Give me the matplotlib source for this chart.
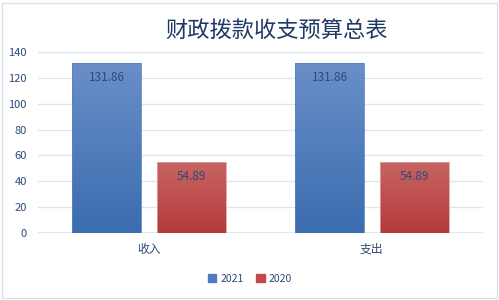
import numpy as np
import matplotlib.pyplot as plt
from matplotlib.patches import Rectangle

plt.rcParams['font.family'] = ['Noto Sans CJK SC', 'DejaVu Sans']

# data
categories = ['收入', '支出']
series_names = ['2021', '2020']
values_2021 = [131.86, 131.86]
values_2020 = [54.89, 54.89]
y_ticks = [0, 20, 40, 60, 80, 100, 120, 140]

text_color = '#2E4A7A'
grid_color = '#DCE6F2'

fig = plt.figure(figsize=(4.99, 3.0), dpi=100)
ax = fig.add_axes([38 / 499, 1 - 233 / 300, (483 - 38) / 499, (233 - 52) / 300])

x = np.arange(len(categories))
width = 0.31
offset = 0.19


def gradient_bars(xs, vals, top_rgb, bottom_rgb, edge):
    bars = ax.bar(xs, vals, width, color='none', edgecolor=edge, linewidth=0.6, zorder=3)
    grad = np.linspace(0, 1, 256).reshape(-1, 1)
    top = np.array(top_rgb) / 255.0
    bot = np.array(bottom_rgb) / 255.0
    img = top[None, None, :] * (1 - grad[:, :, None]) + bot[None, None, :] * grad[:, :, None]
    for b in bars:
        x0, y0 = b.get_x(), b.get_y()
        w, h = b.get_width(), b.get_height()
        im = ax.imshow(img, extent=[x0, x0 + w, y0, y0 + h], aspect='auto',
                       origin='upper', zorder=2)
        im.set_clip_path(Rectangle((x0, y0), w, h, transform=ax.transData))
    return bars


b1 = gradient_bars(x - offset, values_2021, (106, 143, 200), (58, 108, 175), '#5A82BE')
b2 = gradient_bars(x + offset, values_2020, (200, 100, 100), (180, 58, 58), '#E0A0A0')

for xs, vals in [(x - offset, values_2021), (x + offset, values_2020)]:
    for xi, v in zip(xs, vals):
        ax.text(xi, v - 11.5, f'{v:.2f}', ha='center', va='center',
                fontsize=8.5, color=text_color, zorder=4)

ax.set_xlim(-0.5, 1.5)
ax.set_ylim(0, 140)
ax.set_yticks(y_ticks)
ax.set_xticks(x)
ax.set_xticklabels(categories, fontsize=8.5, color=text_color)
ax.tick_params(axis='y', labelsize=8, labelcolor=text_color, length=0, pad=8)
ax.tick_params(axis='x', length=0, pad=7)
ax.yaxis.grid(True, color=grid_color, linewidth=1)
ax.set_axisbelow(True)
for s in ax.spines.values():
    s.set_visible(False)
ax.axhline(0, color=grid_color, linewidth=1.2, zorder=1)

fig.text(277 / 499, 1 - 30 / 300, '财政拨款收支预算总表', ha='center', va='center',
         fontsize=16, color='#1F3864')

handles = [Rectangle((0, 0), 1, 1, color='#4F7CC0'), Rectangle((0, 0), 1, 1, color='#C04A4A')]
fig.legend(handles, series_names, loc='center', bbox_to_anchor=(250 / 499, 1 - 279 / 300),
           ncol=2, frameon=False, fontsize=7.5, handlelength=0.8, handleheight=0.8,
           columnspacing=1.2, handletextpad=0.4, labelcolor=text_color)

fig.patches.append(Rectangle((2 / 499, 2 / 300), 495 / 499, 295 / 300, transform=fig.transFigure,
                             fill=False, edgecolor='#D9E1EC', linewidth=1))

fig.savefig('out.png', dpi=100)
